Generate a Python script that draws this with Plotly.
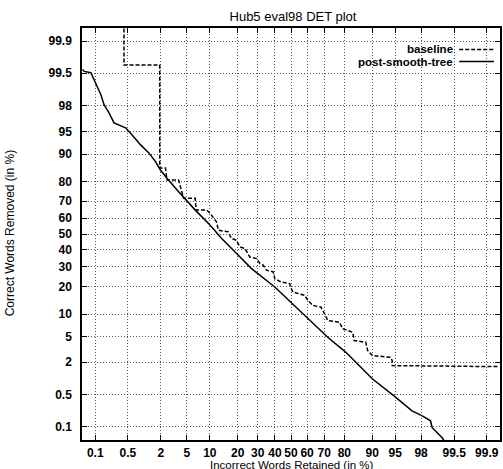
from statistics import NormalDist
import plotly.graph_objects as go

# ---- data (percentages) ----
tick_pcts = [0.1, 0.5, 2, 5, 10, 20, 30, 40, 50, 60, 70, 80, 90, 95, 98, 99.5, 99.9]
tick_labels = ["0.1", "0.5", "2", "5", "10", "20", "30", "40", "50", "60",
               "70", "80", "90", "95", "98", "99.5", "99.9"]

# post-smooth-tree (solid)
pst_x = [0.05, 0.055, 0.079, 0.094, 0.11, 0.134, 0.158, 0.203, 0.26, 0.33, 0.45,
         0.60, 0.88, 1.24, 1.62, 1.96, 2.51, 3.80, 6.53, 10.1, 13.6, 19.4, 26.5,
         39.9, 54.4, 59.5, 71.9, 80.7, 90.1, 94.8, 97.2, 98.09, 98.62, 98.71,
         99.15, 99.22]
pst_y = [99.58, 99.54, 99.51, 99.33, 99.10, 98.72, 98.08, 97.39, 96.25, 95.99,
         95.55, 94.39, 92.33, 90.3, 87.68, 84.75, 81.4, 75.1, 64.9, 55.6, 47.3,
         37.9, 29.1, 19.8, 11.6, 9.13, 4.9, 2.9, 1.01, 0.477, 0.23, 0.179, 0.138,
         0.096, 0.055, 0.046]

# baseline (dashed)
base_x = [0.418, 0.418, 1.91, 1.91, 2.37, 2.51, 3.80, 4.21, 4.50, 6.53, 6.69,
          9.18, 10.1, 11.96, 12.6, 16.1, 17.3, 19.4, 21.0, 23.4, 25.8, 29.3,
          31.2, 33.0, 34.9, 38.9, 39.9, 43.8, 49.2, 50.2, 51.2, 58.5, 60.5,
          63.5, 68.1, 70.2, 71.9, 77.8, 79.3, 83.5, 84.1, 88.1, 88.7, 90.1,
          94.2, 94.5, 94.5, 99.95]
base_y = [99.95, 99.66, 99.66, 85.5, 85.5, 80.6, 80.6, 74.4, 71.6, 71.6, 64.9,
          64.9, 62.9, 57.7, 52.4, 51.4, 47.3, 46.0, 41.8, 40.8, 35.6, 34.7,
          31.8, 30.9, 28.1, 27.2, 23.7, 22.1, 21.3, 19.05, 17.6, 16.3, 14.4,
          12.6, 12.1, 10.06, 8.29, 7.88, 6.44, 5.77, 4.39, 4.14, 3.09, 2.57,
          2.41, 2.12, 1.75, 1.68]

nd = NormalDist()


def probit(vals):
    return [nd.inv_cdf(v / 100.0) for v in vals]


FONT = "Liberation Sans, Arial, sans-serif"

fig = go.Figure()
fig.add_trace(go.Scatter(x=probit(base_x), y=probit(base_y), mode="lines",
                         name="baseline",
                         line=dict(color="black", width=1.5, dash="4px,2px")))
fig.add_trace(go.Scatter(x=probit(pst_x), y=probit(pst_y), mode="lines",
                         name="post-smooth-tree",
                         line=dict(color="black", width=1.5)))

axis_common = dict(
    range=[-3.3, 3.3],
    tickmode="array",
    tickvals=probit(tick_pcts),
    ticktext=tick_labels,
    ticks="inside",
    ticklen=5,
    tickwidth=1,
    tickcolor="black",
    showline=True,
    linecolor="black",
    linewidth=1.5,
    mirror="ticks",
    showgrid=True,
    gridcolor="#555555",
    gridwidth=1,
    griddash="1px,2px",
    zeroline=False,
    tickfont=dict(family=FONT, size=12, color="black", weight="bold"),
)

fig.update_xaxes(**axis_common, ticklabelstandoff=1)
fig.update_yaxes(**axis_common, ticklabelstandoff=6)

PL, PR, PT, PB = 82, 1, 28, 29
W, H = 503, 469
pw = W - PL - PR
ph = H - PT - PB


def px_x(p):
    return (p - PL) / pw


def px_y(p):
    return (H - PB - p) / ph


legend_font = dict(family=FONT, size=11.5, color="black", weight="bold")

annotations = [
    dict(text="baseline", x=px_x(456), y=px_y(49), xref="paper", yref="paper",
         xanchor="right", yanchor="middle", showarrow=False, borderpad=0,
         font=legend_font),
    dict(text="post-smooth-tree", x=px_x(456), y=px_y(61.5), xref="paper",
         yref="paper", xanchor="right", yanchor="middle", showarrow=False,
         borderpad=0, font=legend_font),
    dict(text="Incorrect Words Retained (in %)", x=px_x(293), y=px_y(465),
         xref="paper", yref="paper", xanchor="center", yanchor="middle",
         showarrow=False, font=dict(family=FONT, size=11.5, color="black")),
    dict(text="Correct Words Removed (in %)", x=px_x(10), y=px_y(233),
         xref="paper", yref="paper", xanchor="center", yanchor="middle",
         textangle=-90, showarrow=False,
         font=dict(family=FONT, size=12, color="black")),
]

shapes = [
    dict(type="line", xref="paper", yref="paper", x0=px_x(461), x1=px_x(496),
         y0=px_y(49.5), y1=px_y(49.5),
         line=dict(color="black", width=1.5, dash="4px,2px")),
    dict(type="line", xref="paper", yref="paper", x0=px_x(461), x1=px_x(496),
         y0=px_y(61.5), y1=px_y(61.5),
         line=dict(color="black", width=1.5)),
]

fig.update_layout(
    width=W, height=H,
    margin=dict(l=PL, r=PR, t=PT, b=PB, pad=0),
    paper_bgcolor="white",
    plot_bgcolor="white",
    showlegend=False,
    title=dict(text="Hub5 eval98 DET plot", x=293 / W, xanchor="center",
               y=1 - 16 / H, yanchor="middle", yref="container",
               font=dict(family=FONT, size=13, color="black")),
    annotations=annotations,
    shapes=shapes,
)

fig.write_html("out.html",
               config={"displayModeBar": False},
               post_script="document.body.style.margin='0';"
                           "document.body.style.padding='0';")
